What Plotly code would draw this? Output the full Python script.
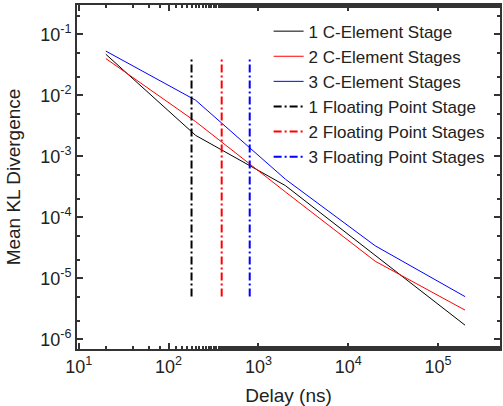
import plotly.graph_objects as go

delay = [20, 200, 2000, 20000, 200000]
kl_1c = [0.047, 2.2e-3, 3.3e-4, 2.4e-5, 1.7e-6]
kl_2c = [0.040, 3.7e-3, 2.6e-4, 1.9e-5, 3.0e-6]
kl_3c = [0.053, 8.3e-3, 4.2e-4, 3.4e-5, 5.0e-6]

fp_delay = [180, 390, 800]
fp_span = [5e-6, 0.042]

c_names = ["1 C-Element Stage", "2 C-Element Stages", "3 C-Element Stages"]
fp_names = ["1 Floating Point Stage", "2 Floating Point Stages", "3 Floating Point Stages"]
colors = ["#000000", "#ff0000", "#0000ff"]

x_tickvals = [10, 100, 1000, 10000, 100000]
x_ticktext = ["10<sup>1</sup>", "10<sup>2</sup>", "10<sup>3</sup>", "10<sup>4</sup>", "10<sup>5</sup>"]
y_tickvals = [1e-6, 1e-5, 1e-4, 1e-3, 1e-2, 1e-1]
y_ticktext = ["10<sup>-6</sup>", "10<sup>-5</sup>", "10<sup>-4</sup>", "10<sup>-3</sup>", "10<sup>-2</sup>", "10<sup>-1</sup>"]

fig = go.Figure()
for name, ys, col in zip(c_names, [kl_1c, kl_2c, kl_3c], colors):
    fig.add_trace(go.Scatter(x=delay, y=ys, mode="lines", name=name,
                             line=dict(color=col, width=1)))
for name, xv, col in zip(fp_names, fp_delay, colors):
    fig.add_trace(go.Scatter(x=[xv, xv], y=fp_span, mode="lines", name=name,
                             line=dict(color=col, width=2, dash="8px,3px,2px,3px")))

font = "Liberation Sans, Arial, sans-serif"
axis_common = dict(
    type="log", showgrid=False, zeroline=False, automargin=False,
    showline=True, linecolor="#333333", linewidth=2, mirror="allticks",
    ticks="inside", ticklen=6, tickwidth=1.5, tickcolor="#333333",
    minor=dict(ticks="inside", ticklen=3, tickcolor="#333333", showgrid=False),
    tickfont=dict(family=font, size=18, color="#222222"),
)
fig.update_xaxes(range=[0.98, 5.69], tickvals=x_tickvals, ticktext=x_ticktext,
                 title=dict(text="Delay (ns)", font=dict(family=font, size=19, color="#222222")),
                 **axis_common)
fig.update_yaxes(range=[-6.16, -0.52], tickvals=y_tickvals, ticktext=y_ticktext,
                 title=dict(text="Mean KL Divergence", font=dict(family=font, size=19, color="#222222")),
                 **axis_common)

fig.update_layout(
    width=503, height=406,
    margin=dict(l=77, r=3, t=5, b=57),
    paper_bgcolor="white", plot_bgcolor="white",
    showlegend=True,
    legend=dict(x=0.453, y=0.975, xanchor="left", yanchor="top",
                bgcolor="rgba(0,0,0,0)", borderwidth=0,
                font=dict(family=font, size=17, color="#222222"),
                tracegroupgap=0, itemwidth=30),
)

fig.write_html("out.html", config={"displayModeBar": False},
               post_script="document.body.style.margin='0';document.body.style.overflow='hidden';")
